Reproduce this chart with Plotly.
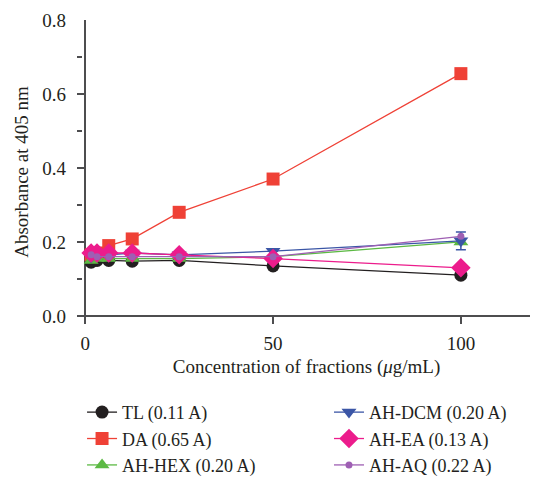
import plotly.graph_objects as go

conc = [1.5625, 3.125, 6.25, 12.5, 25, 50, 100]
tl = [0.145, 0.150, 0.150, 0.148, 0.150, 0.135, 0.110]
da = [0.165, 0.170, 0.190, 0.208, 0.280, 0.370, 0.655]
hex_ = [0.150, 0.155, 0.155, 0.155, 0.155, 0.160, 0.200]
dcm = [0.160, 0.165, 0.165, 0.170, 0.165, 0.175, 0.203]
dcm_err = [0, 0, 0, 0.008, 0, 0, 0.024]
ea = [0.170, 0.170, 0.170, 0.170, 0.165, 0.155, 0.130]
aq = [0.165, 0.160, 0.160, 0.160, 0.160, 0.160, 0.215]

names = ["TL (0.11 A)", "DA (0.65 A)", "AH-HEX (0.20 A)",
         "AH-DCM (0.20 A)", "AH-EA (0.13 A)", "AH-AQ (0.22 A)"]
colors = ["#231f20", "#ef4136", "#5cb944", "#3b56a6", "#ec1c8c", "#9e5fb3"]
symbols = ["circle", "square", "triangle-up", "triangle-down", "diamond", "circle"]
sizes = [13, 13, 13, 13, 15, 7]
legends = ["legend", "legend", "legend", "legend2", "legend2", "legend2"]
series = [tl, da, hex_, dcm, ea, aq]

fig = go.Figure()
for i, (ys, nm) in enumerate(zip(series, names)):
    kw = {}
    if i == 3:
        kw["error_y"] = dict(type="data", array=dcm_err, color=colors[i],
                             thickness=1.5, width=5)
    fig.add_trace(go.Scatter(
        x=conc, y=ys, name=nm, mode="lines+markers",
        line=dict(color=colors[i], width=1.3),
        marker=dict(color=colors[i], symbol=symbols[i], size=sizes[i]),
        legend=legends[i], **kw))

font = "Liberation Serif, Times New Roman, serif"
fs = 19
leg_common = dict(orientation="v", yanchor="top", xanchor="left",
                  font=dict(family=font, size=18), itemwidth=30,
                  bgcolor="rgba(0,0,0,0)", tracegroupgap=0)
fig.update_layout(
    width=530, height=480,
    margin=dict(l=69, r=2, t=12, b=164),
    paper_bgcolor="white", plot_bgcolor="white",
    font=dict(family=font, size=fs, color="#231f20"),
    showlegend=True,
    legend=dict(x=0.011, y=-0.23, **leg_common),
    legend2=dict(x=0.549, y=-0.23, **leg_common),
    xaxis=dict(range=[-2.2, 120], showgrid=False, showline=False,
               zeroline=True, zerolinecolor="#4d4d4f", zerolinewidth=2,
               tickvals=[0, 50, 100], ticks="inside", ticklen=8, tickwidth=2,
               tickcolor="#4d4d4f", automargin=False, ticklabelstandoff=6,
               ticklabeloverflow="allow",
               title=dict(text="Concentration of fractions (<i>μ</i>g/mL)",
                          font=dict(size=fs), standoff=6)),
    yaxis=dict(range=[-0.022, 0.8], showgrid=False, showline=False,
               zeroline=True, zerolinecolor="#4d4d4f", zerolinewidth=2,
               tickvals=[0, 0.2, 0.4, 0.6, 0.8], tickformat=".1f",
               ticks="inside", ticklen=8, tickwidth=2, tickcolor="#4d4d4f",
               automargin=False, ticklabelstandoff=10,
               ticklabeloverflow="allow",
               minor=dict(tickvals=[0.1, 0.3, 0.5, 0.7], ticks="inside",
                          ticklen=5, tickwidth=1.5, tickcolor="#4d4d4f"),
               title=dict(text="Absorbance at 405 nm", font=dict(size=fs),
                          standoff=8)),
)
fig.write_html("out.html")
